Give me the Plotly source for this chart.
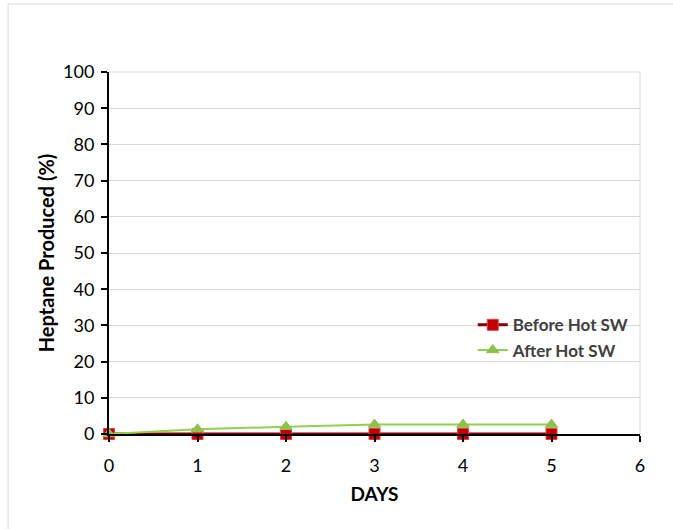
import plotly.graph_objects as go

days = [0, 1, 2, 3, 4, 5]
before_hot_sw = [0, 0, 0, 0, 0, 0]
after_hot_sw = [0, 1.3, 2.0, 2.6, 2.6, 2.6]

FONT = "Lato, Liberation Sans, sans-serif"

fig = go.Figure()
fig.add_trace(go.Scatter(
    x=days, y=before_hot_sw, name="Before Hot SW", mode="lines+markers",
    cliponaxis=False,
    line=dict(color="#7F0000", width=3),
    marker=dict(symbol="square", size=11, color="#C00000",
                line=dict(color="#E04040", width=1)),
))
fig.add_trace(go.Scatter(
    x=days, y=after_hot_sw, name="After Hot SW", mode="lines+markers",
    cliponaxis=False,
    line=dict(color="#92D050", width=2),
    marker=dict(symbol="triangle-up", size=11, color="#8BC34A",
                line=dict(color="#9BBB59", width=1)),
))

fig.update_layout(
    width=673, height=529,
    margin=dict(l=109, r=33, t=72, b=95),
    paper_bgcolor="white", plot_bgcolor="white",
    font=dict(family=FONT, size=18, color="#000000"),
    showlegend=True,
    legend=dict(x=0.685, y=0.35, xanchor="left", yanchor="top",
                bgcolor="rgba(0,0,0,0)", traceorder="normal",
                font=dict(family=FONT, size=17, color="#404040", weight="bold"),
                itemwidth=30, tracegroupgap=4),
    xaxis=dict(
        range=[0, 6], tickvals=[0, 1, 2, 3, 4, 5, 6], showgrid=False,
        zeroline=False, showline=True, linecolor="black", linewidth=2,
        ticks="outside", ticklen=6, tickwidth=2, tickcolor="black",
        ticklabelstandoff=8,
        title=dict(text="<b>DAYS</b>", font=dict(family=FONT, size=19), standoff=13),
        tickfont=dict(family=FONT, size=18),
    ),
    yaxis=dict(
        range=[0, 100], tickvals=list(range(0, 101, 10)),
        showgrid=True, gridcolor="#D9D9D9", gridwidth=1,
        zeroline=False, showline=True, linecolor="black", linewidth=2,
        ticks="outside", ticklen=6, tickwidth=2, tickcolor="black",
        ticklabelstandoff=3,
        title=dict(text="<b>Heptane Produced (%)</b>", font=dict(family=FONT, size=20), standoff=3),
        tickfont=dict(family=FONT, size=18),
    ),
    shapes=[
        # plot-area border on the top and right
        dict(type="line", xref="paper", yref="paper", x0=0, x1=1, y0=1, y1=1,
             line=dict(color="#D9D9D9", width=1), layer="below"),
        dict(type="line", xref="paper", yref="paper", x0=1, x1=1, y0=0, y1=1,
             line=dict(color="#D9D9D9", width=1), layer="below"),
        # outer chart frame
        dict(type="rect", xref="paper", yref="paper",
             x0=-0.190, x1=1.08, y0=-0.29, y1=1.188,
             line=dict(color="#D9D9D9", width=1), fillcolor="rgba(0,0,0,0)"),
    ],
)

fig.write_html("out.html")
